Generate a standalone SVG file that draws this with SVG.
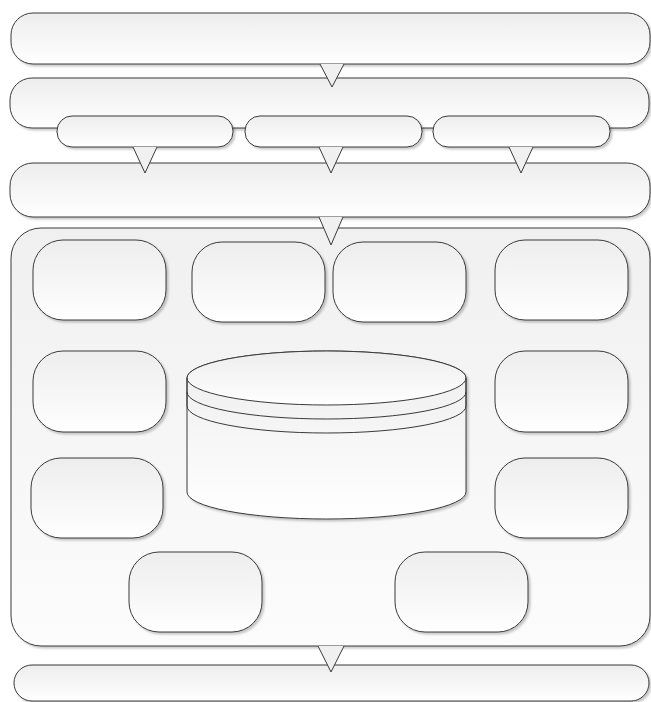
<svg xmlns="http://www.w3.org/2000/svg" width="651" height="702" viewBox="0 0 651 702">
<defs>
<linearGradient id="g" x1="0" y1="0" x2="0" y2="1"><stop offset="0" stop-color="#ededed"/><stop offset="1" stop-color="#ffffff"/></linearGradient>
<linearGradient id="gc" x1="0" y1="0" x2="0" y2="1"><stop offset="0" stop-color="#f0f0f0"/><stop offset="1" stop-color="#fcfcfc"/></linearGradient>
<filter id="sh" x="-10%" y="-10%" width="120%" height="130%"><feDropShadow dx="2" dy="2" stdDeviation="1.2" flood-color="#000" flood-opacity="0.22"/></filter>
</defs>
<style>
.b{fill:url(#g);stroke:#3a3a3a;stroke-width:1;filter:url(#sh)}
.c{fill:url(#gc);stroke:#3a3a3a;stroke-width:1;filter:url(#sh)}
.t{fill:#f0f0f0;stroke:none}
.ts{fill:none;stroke:#3a3a3a;stroke-width:1}
.cy{fill:url(#g);stroke:#3a3a3a;stroke-width:1}
</style>
<rect width="651" height="702" fill="#ffffff"/>
<g id="box1"><rect class="b" x="11" y="13" width="639" height="51" rx="22"/></g>
<g id="box2"><rect class="b" x="10" y="78" width="639" height="50" rx="22"/></g>
<g id="sub1"><rect class="b" x="57" y="116" width="176" height="31" rx="15"/></g>
<g id="sub2"><rect class="b" x="245" y="116" width="177" height="31" rx="15"/></g>
<g id="sub3"><rect class="b" x="433" y="116" width="177" height="31" rx="15"/></g>
<g id="box3"><rect class="b" x="10" y="163" width="640" height="54" rx="23"/></g>
<g id="container"><rect class="c" x="11" y="228" width="639" height="418" rx="30"/></g>
<g id="n1"><rect class="b" x="33" y="240" width="133" height="80" rx="30"/></g>
<g id="n2"><rect class="b" x="192" y="242" width="133" height="80" rx="30"/></g>
<g id="n3"><rect class="b" x="333" y="242" width="133" height="80" rx="30"/></g>
<g id="n4"><rect class="b" x="495" y="240" width="133" height="80" rx="30"/></g>
<g id="n5"><rect class="b" x="33" y="351" width="133" height="81" rx="30"/></g>
<g id="n6"><rect class="b" x="495" y="351" width="133" height="81" rx="30"/></g>
<g id="n7"><rect class="b" x="31" y="458" width="132" height="80" rx="30"/></g>
<g id="n8"><rect class="b" x="495" y="458" width="133" height="80" rx="30"/></g>
<g id="n9"><rect class="b" x="129" y="552" width="133" height="80" rx="30"/></g>
<g id="n10"><rect class="b" x="395" y="552" width="133" height="80" rx="30"/></g>
<g id="database" filter="url(#sh)">
<path class="cy" d="M187,378 L187,492 A139.5,27 0 0 0 466,492 L466,378 A139.5,27 0 0 0 187,378 Z"/>
<ellipse class="cy" cx="326.5" cy="378" rx="139.5" ry="27"/>
<path class="ts" d="M187,378 L187,392 A139.5,27 0 0 0 466,392 L466,378"/>
<path class="ts" d="M187,392 L187,406 A139.5,27 0 0 0 466,406 L466,392"/>
</g>
<g id="box4"><rect class="b" x="14" y="665" width="635" height="36" rx="18"/></g>
<g id="connectors">
<polygon class="t" points="320,64 344,64 332,87"/><path class="ts" d="M320,64 L332,87 L344,64"/>
<polygon class="t" points="133,147 157,147 145,173"/><path class="ts" d="M133,147 L145,173 L157,147"/>
<polygon class="t" points="319,147 343,147 331,173"/><path class="ts" d="M319,147 L331,173 L343,147"/>
<polygon class="t" points="509,147 533,147 521,173"/><path class="ts" d="M509,147 L521,173 L533,147"/>
<polygon class="t" points="319,217 343,217 331,245"/><path class="ts" d="M319,217 L331,245 L343,217"/>
<polygon class="t" points="318,646 344,646 331,672"/><path class="ts" d="M318,646 L331,672 L344,646"/>
</g>
</svg>
